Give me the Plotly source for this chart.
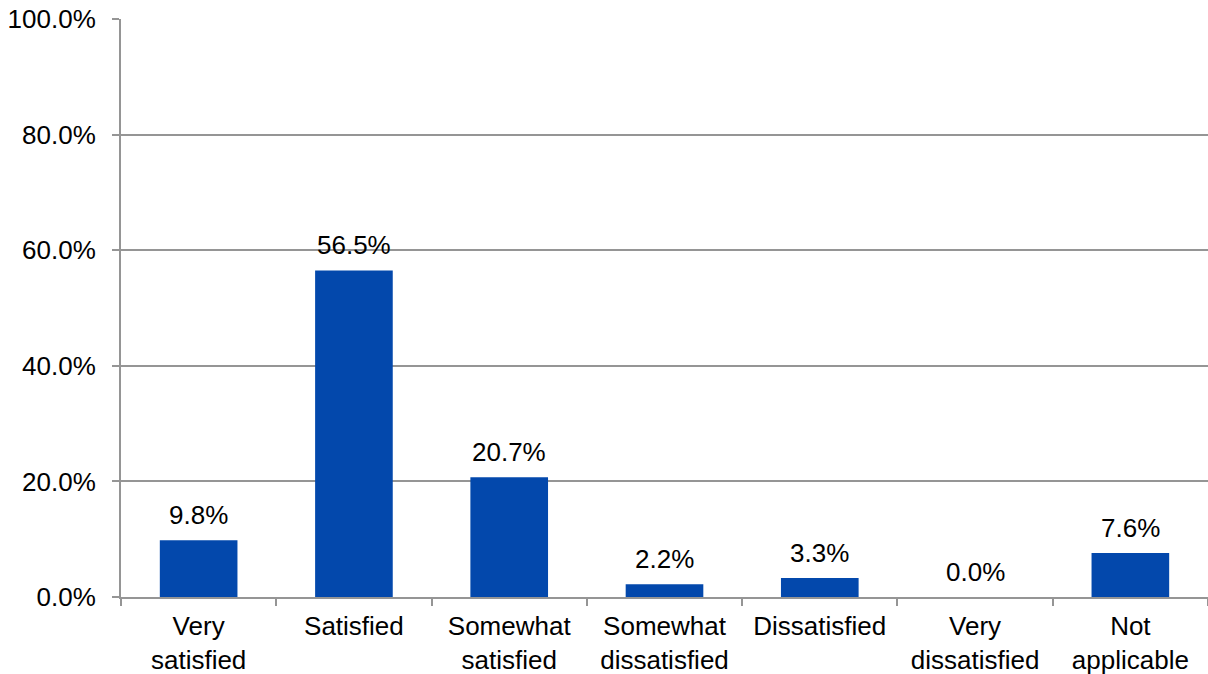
import plotly.graph_objects as go

categories = ["Very<br>satisfied", "Satisfied", "Somewhat<br>satisfied", "Somewhat<br>dissatisfied",
              "Dissatisfied", "Very<br>dissatisfied", "Not<br>applicable"]
values = [0.098, 0.565, 0.207, 0.022, 0.033, 0.000, 0.076]
labels = ["9.8%", "56.5%", "20.7%", "2.2%", "3.3%", "0.0%", "7.6%"]
ytick_vals = [0.0, 0.2, 0.4, 0.6, 0.8, 1.0]

FONT = "Liberation Sans, Arial, sans-serif"
FS = 26
GRID = "#959595"

fig = go.Figure()
fig.add_trace(go.Bar(x=categories, y=values, marker=dict(color="#0348AC", line=dict(width=0)),
                     showlegend=False, hoverinfo="skip"))

for c, v, t in zip(categories, values, labels):
    fig.add_annotation(x=c, y=v, text=t, showarrow=False, yanchor="bottom", yshift=8,
                       font=dict(family=FONT, size=FS, color="#000000"))

fig.update_layout(
    width=1208, height=674,
    margin=dict(l=121, r=0, t=19, b=77),
    paper_bgcolor="white", plot_bgcolor="white",
    bargap=0.5,
    font=dict(family=FONT, size=FS, color="#000000"),
)
fig.update_xaxes(
    type="category", showline=True, linecolor=GRID, linewidth=2, automargin=False,
    ticks="outside", tickson="boundaries", ticklen=7, tickcolor=GRID, tickwidth=2,
    showgrid=False, ticklabelstandoff=5,
    tickfont=dict(family=FONT, size=FS, color="#000000"),
)
fig.update_yaxes(
    range=[0, 1], tickvals=ytick_vals, tickformat=".1%", automargin=False,
    showline=True, linecolor=GRID, linewidth=2,
    ticks="outside", ticklen=7, tickcolor=GRID, tickwidth=2,
    showgrid=True, gridcolor=GRID, gridwidth=1.6, zeroline=False,
    ticklabelstandoff=11,
    tickfont=dict(family=FONT, size=FS, color="#000000"),
)

fig.write_html("out.html", config={"displayModeBar": False},
               post_script="document.body.style.margin='0';document.body.style.overflow='hidden';")
